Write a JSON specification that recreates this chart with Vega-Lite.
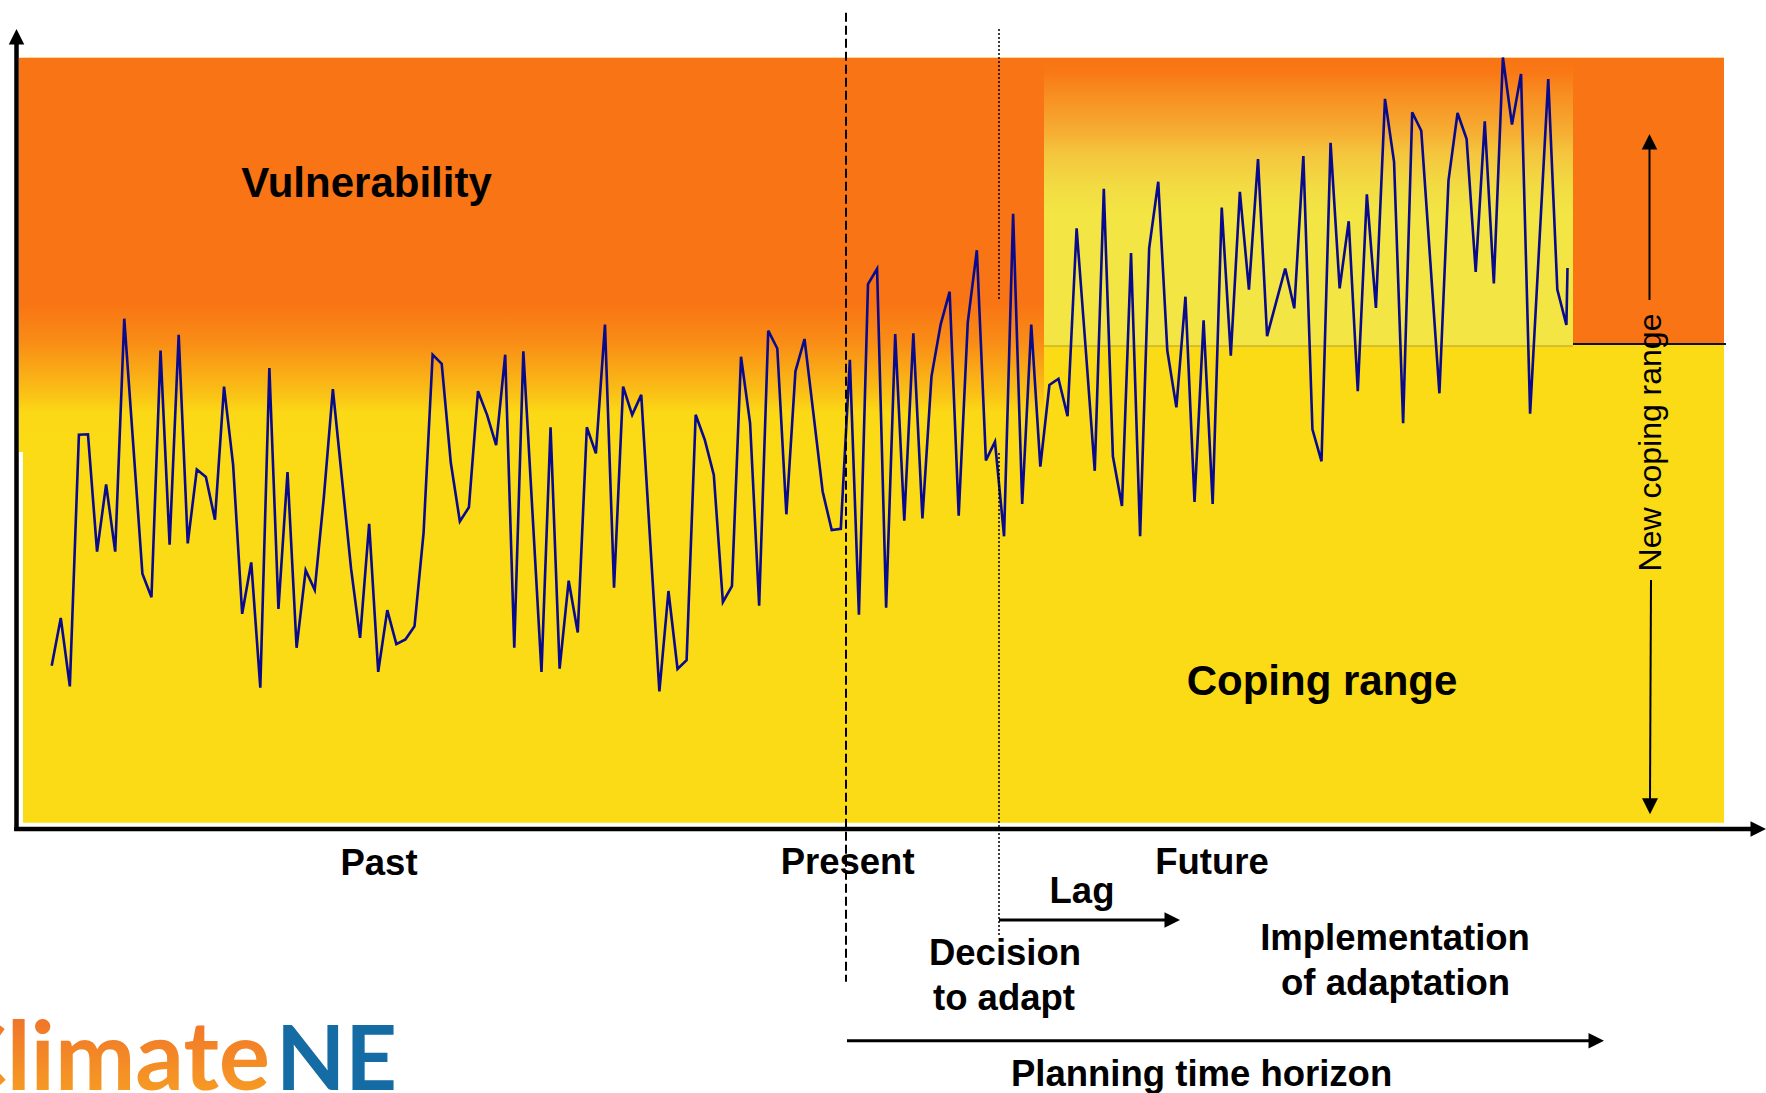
{
  "$schema": "https://vega.github.io/schema/vega-lite/v6.json",
  "width": 1766,
  "height": 1093,
  "autosize": {"type": "none"},
  "padding": 0,
  "background": "white",
  "config": {"view": {"stroke": null}, "text": {"font": "Liberation Sans"}},
  "datasets": {
    "base": [{"x1": 23, "x2": 1724, "y1": 57.7, "y2": 822.7}],
    "leftband": [{"x1": 19, "x2": 1044, "y1": 57.7, "y2": 452}],
    "midband": [{"x1": 1044, "x2": 1573, "y1": 57.7, "y2": 346}],
    "rightband": [{"x1": 1573, "x2": 1724, "y1": 57.7, "y2": 344}],
    "rule_olive": [{"x": 1044, "x2": 1573, "y": 346, "y2": 346}],
    "rule_black": [{"x": 1573, "x2": 1726, "y": 344, "y2": 344}],
    "rules_axis": [{"x": 16.5, "x2": 16.5, "y": 40, "y2": 831}, {"x": 14.2, "x2": 1752, "y": 829, "y2": 829}],
    "rules_arrow": [{"x": 999, "x2": 1168, "y": 920, "y2": 920}, {"x": 847, "x2": 1590, "y": 1040.7, "y2": 1040.7}],
    "rules_coping": [{"x": 1649.5, "x2": 1649.5, "y": 146, "y2": 300}, {"x": 1651, "x2": 1650, "y": 580, "y2": 800}],
    "rule_dashed": [{"x": 846, "x2": 846, "y": 12.7, "y2": 981.7}],
    "rule_dotted": [{"x": 999, "x2": 999, "y": 29, "y2": 300}, {"x": 999, "x2": 999, "y": 453, "y2": 937}],
    "heads_up": [{"x": 16.5, "y": 36.75}, {"x": 1649.5, "y": 141.75}],
    "heads_down": [{"x": 1650, "y": 806.25}],
    "heads_right": [{"x": 1758.25, "y": 829}, {"x": 1172.25, "y": 920}, {"x": 1596.25, "y": 1040.7}],
    "labels_big": [{"label": "Vulnerability", "x": 366.5, "y": 196.7}, {"label": "Coping range", "x": 1322, "y": 695}],
    "labels_small": [
      {"label": "Past", "x": 379, "y": 875},
      {"label": "Present", "x": 847.6, "y": 874},
      {"label": "Future", "x": 1212, "y": 874},
      {"label": "Lag", "x": 1082, "y": 903},
      {"label": "Decision", "x": 1005, "y": 965},
      {"label": "to adapt", "x": 1004, "y": 1010},
      {"label": "Implementation", "x": 1395, "y": 950},
      {"label": "of adaptation", "x": 1395.6, "y": 995},
      {"label": "Planning time horizon", "x": 1201.6, "y": 1086}
    ],
    "label_rot": [{"label": "New coping range", "x": 1661, "y": 442.5}],
    "logo_a": [{"label": "Climate", "x": 270, "y": 1090}],
    "logo_b": [{"label": "NE", "x": 276, "y": 1090}],
    "series": [
      {"t": 51.7, "y": 665.7}, {"t": 60.77, "y": 618.0}, {"t": 69.84, "y": 686.4}, {"t": 78.91, "y": 434.7},
      {"t": 87.98, "y": 434.3}, {"t": 97.05, "y": 551.7}, {"t": 106.12, "y": 484.5}, {"t": 115.19, "y": 551.7},
      {"t": 124.26, "y": 318.7}, {"t": 133.33, "y": 445.9}, {"t": 142.4, "y": 573.6}, {"t": 151.47, "y": 597.3},
      {"t": 160.54, "y": 350.6}, {"t": 169.61, "y": 544.6}, {"t": 178.68, "y": 334.8}, {"t": 187.75, "y": 543.4},
      {"t": 196.82, "y": 469.6}, {"t": 205.89, "y": 477.0}, {"t": 214.96, "y": 519.7}, {"t": 224.03, "y": 386.6},
      {"t": 233.1, "y": 464.6}, {"t": 242.17, "y": 613.8}, {"t": 251.24, "y": 562.4}, {"t": 260.31, "y": 687.6},
      {"t": 269.38, "y": 368.0}, {"t": 278.45, "y": 608.9}, {"t": 287.52, "y": 472.1}, {"t": 296.59, "y": 647.8},
      {"t": 305.66, "y": 570.3}, {"t": 314.73, "y": 589.8}, {"t": 323.8, "y": 497.8}, {"t": 332.87, "y": 389.1},
      {"t": 341.94, "y": 478.7}, {"t": 351.01, "y": 568.2}, {"t": 360.08, "y": 637.9}, {"t": 369.15, "y": 523.9},
      {"t": 378.22, "y": 671.9}, {"t": 387.29, "y": 610.1}, {"t": 396.36, "y": 644.1}, {"t": 405.43, "y": 639.5},
      {"t": 414.5, "y": 626.3}, {"t": 423.57, "y": 533.0}, {"t": 432.64, "y": 354.7}, {"t": 441.71, "y": 363.8},
      {"t": 450.78, "y": 462.5}, {"t": 459.85, "y": 521.4}, {"t": 468.92, "y": 507.3}, {"t": 477.99, "y": 391.2},
      {"t": 487.06, "y": 414.8}, {"t": 496.13, "y": 445.1}, {"t": 505.2, "y": 354.7}, {"t": 514.27, "y": 647.8},
      {"t": 523.34, "y": 351.4}, {"t": 532.41, "y": 511.4}, {"t": 541.48, "y": 671.9}, {"t": 550.55, "y": 427.3},
      {"t": 559.62, "y": 668.6}, {"t": 568.69, "y": 580.7}, {"t": 577.76, "y": 632.5}, {"t": 586.83, "y": 427.3},
      {"t": 595.9, "y": 453.4}, {"t": 604.97, "y": 324.5}, {"t": 614.04, "y": 587.7}, {"t": 623.11, "y": 386.6},
      {"t": 632.18, "y": 414.8}, {"t": 641.25, "y": 394.9}, {"t": 650.32, "y": 543.4}, {"t": 659.39, "y": 691.4},
      {"t": 668.46, "y": 591.0}, {"t": 677.53, "y": 669.0}, {"t": 686.6, "y": 660.3}, {"t": 695.67, "y": 414.8},
      {"t": 704.74, "y": 439.7}, {"t": 713.81, "y": 475.0}, {"t": 722.88, "y": 602.2}, {"t": 731.95, "y": 586.1},
      {"t": 741.02, "y": 356.8}, {"t": 750.09, "y": 423.1}, {"t": 759.16, "y": 605.6}, {"t": 768.23, "y": 330.7},
      {"t": 777.3, "y": 348.5}, {"t": 786.37, "y": 514.3}, {"t": 795.44, "y": 371.3}, {"t": 804.51, "y": 339.0},
      {"t": 813.58, "y": 414.8}, {"t": 822.65, "y": 491.5}, {"t": 831.72, "y": 530.1}, {"t": 840.79, "y": 528.9},
      {"t": 849.86, "y": 359.7}, {"t": 858.93, "y": 614.7}, {"t": 868.0, "y": 284.2}, {"t": 877.07, "y": 268.9},
      {"t": 886.14, "y": 607.6}, {"t": 895.21, "y": 334.0}, {"t": 904.28, "y": 520.6}, {"t": 913.35, "y": 333.2},
      {"t": 922.42, "y": 518.5}, {"t": 931.49, "y": 376.3}, {"t": 940.56, "y": 324.9}, {"t": 949.63, "y": 291.7},
      {"t": 958.7, "y": 515.6}, {"t": 967.77, "y": 322.4}, {"t": 976.84, "y": 250.2}, {"t": 985.91, "y": 460.4},
      {"t": 994.98, "y": 441.8}, {"t": 1004.05, "y": 536.3}, {"t": 1013.12, "y": 213.8}, {"t": 1022.19, "y": 504.0},
      {"t": 1031.26, "y": 324.5}, {"t": 1040.33, "y": 466.7}, {"t": 1049.4, "y": 385.0}, {"t": 1058.47, "y": 378.8},
      {"t": 1067.54, "y": 416.1}, {"t": 1076.61, "y": 228.3}, {"t": 1085.68, "y": 348.5}, {"t": 1094.75, "y": 470.8},
      {"t": 1103.82, "y": 188.9}, {"t": 1112.89, "y": 456.3}, {"t": 1121.96, "y": 506.0}, {"t": 1131.03, "y": 253.1},
      {"t": 1140.1, "y": 536.3}, {"t": 1149.17, "y": 248.2}, {"t": 1158.24, "y": 181.8}, {"t": 1167.31, "y": 350.6},
      {"t": 1176.38, "y": 407.4}, {"t": 1185.45, "y": 296.7}, {"t": 1194.52, "y": 501.9}, {"t": 1203.59, "y": 320.3},
      {"t": 1212.66, "y": 504.0}, {"t": 1221.73, "y": 207.5}, {"t": 1230.8, "y": 355.6}, {"t": 1239.87, "y": 191.8},
      {"t": 1248.94, "y": 289.6}, {"t": 1258.01, "y": 159.0}, {"t": 1267.08, "y": 336.1}, {"t": 1276.15, "y": 302.1},
      {"t": 1285.22, "y": 268.5}, {"t": 1294.29, "y": 308.3}, {"t": 1303.36, "y": 156.1}, {"t": 1312.43, "y": 429.4},
      {"t": 1321.5, "y": 461.3}, {"t": 1330.57, "y": 142.9}, {"t": 1339.64, "y": 288.4}, {"t": 1348.71, "y": 221.2},
      {"t": 1357.78, "y": 391.2}, {"t": 1366.85, "y": 194.3}, {"t": 1375.92, "y": 307.9}, {"t": 1384.99, "y": 98.9},
      {"t": 1394.06, "y": 161.9}, {"t": 1403.13, "y": 423.1}, {"t": 1412.2, "y": 112.2}, {"t": 1421.27, "y": 130.8},
      {"t": 1430.34, "y": 261.9}, {"t": 1439.41, "y": 393.3}, {"t": 1448.48, "y": 180.6}, {"t": 1457.55, "y": 113.0},
      {"t": 1466.62, "y": 139.1}, {"t": 1475.69, "y": 271.8}, {"t": 1484.76, "y": 121.3}, {"t": 1493.83, "y": 283.4},
      {"t": 1502.9, "y": 57.5}, {"t": 1511.97, "y": 124.6}, {"t": 1521.04, "y": 74.0}, {"t": 1530.11, "y": 413.6},
      {"t": 1539.18, "y": 246.1}, {"t": 1548.25, "y": 79.0}, {"t": 1557.32, "y": 289.6}, {"t": 1566.39, "y": 324.9},
      {"t": 1567.5, "y": 268.0}
    ]
  },
  "layer": [
    {
      "data": {"name": "base"},
      "mark": {"type": "rect", "color": "#FBDA16"},
      "encoding": {
        "x": {"field": "x1", "type": "quantitative", "axis": null, "scale": {"domain": [0, 1766], "nice": false, "zero": false}},
        "x2": {"field": "x2"},
        "y": {"field": "y1", "type": "quantitative", "axis": null, "scale": {"domain": [0, 1093], "nice": false, "zero": false, "reverse": true}},
        "y2": {"field": "y2"}
      }
    },
    {
      "data": {"name": "leftband"},
      "mark": {"type": "rect", "color": {"gradient": "linear", "x1": 0, "y1": 0, "x2": 0, "y2": 1, "stops": [
        {"offset": 0, "color": "#F97414"}, {"offset": 0.62, "color": "#F97414"}, {"offset": 0.72, "color": "#F98C16"},
        {"offset": 0.85, "color": "#FAC016"}, {"offset": 0.9, "color": "#FBD916"}, {"offset": 1, "color": "#FBDA16"}]}},
      "encoding": {
        "x": {"field": "x1", "type": "quantitative", "axis": null, "scale": {"domain": [0, 1766], "nice": false, "zero": false}},
        "x2": {"field": "x2"},
        "y": {"field": "y1", "type": "quantitative", "axis": null, "scale": {"domain": [0, 1093], "nice": false, "zero": false, "reverse": true}},
        "y2": {"field": "y2"}
      }
    },
    {
      "data": {"name": "midband"},
      "mark": {"type": "rect", "color": {"gradient": "linear", "x1": 0, "y1": 0, "x2": 0, "y2": 1, "stops": [
        {"offset": 0, "color": "#F97414"}, {"offset": 0.05, "color": "#F97815"}, {"offset": 0.12, "color": "#F88C20"},
        {"offset": 0.26, "color": "#F6AE33"}, {"offset": 0.33, "color": "#F4C53D"}, {"offset": 0.45, "color": "#F2DC43"},
        {"offset": 0.55, "color": "#F3E644"}, {"offset": 1, "color": "#F3E644"}]}},
      "encoding": {
        "x": {"field": "x1", "type": "quantitative", "axis": null, "scale": {"domain": [0, 1766], "nice": false, "zero": false}},
        "x2": {"field": "x2"},
        "y": {"field": "y1", "type": "quantitative", "axis": null, "scale": {"domain": [0, 1093], "nice": false, "zero": false, "reverse": true}},
        "y2": {"field": "y2"}
      }
    },
    {
      "data": {"name": "rightband"},
      "mark": {"type": "rect", "color": "#F97414"},
      "encoding": {
        "x": {"field": "x1", "type": "quantitative", "axis": null, "scale": {"domain": [0, 1766], "nice": false, "zero": false}},
        "x2": {"field": "x2"},
        "y": {"field": "y1", "type": "quantitative", "axis": null, "scale": {"domain": [0, 1093], "nice": false, "zero": false, "reverse": true}},
        "y2": {"field": "y2"}
      }
    },
    {
      "data": {"name": "rule_olive"},
      "mark": {"type": "rule", "color": "#B39B2A", "strokeWidth": 1.2},
      "encoding": {
        "x": {"field": "x", "type": "quantitative", "axis": null, "scale": {"domain": [0, 1766], "nice": false, "zero": false}},
        "x2": {"field": "x2"},
        "y": {"field": "y", "type": "quantitative", "axis": null, "scale": {"domain": [0, 1093], "nice": false, "zero": false, "reverse": true}},
        "y2": {"field": "y2"}
      }
    },
    {
      "data": {"name": "rule_black"},
      "mark": {"type": "rule", "color": "#111111", "strokeWidth": 2},
      "encoding": {
        "x": {"field": "x", "type": "quantitative", "axis": null, "scale": {"domain": [0, 1766], "nice": false, "zero": false}},
        "x2": {"field": "x2"},
        "y": {"field": "y", "type": "quantitative", "axis": null, "scale": {"domain": [0, 1093], "nice": false, "zero": false, "reverse": true}},
        "y2": {"field": "y2"}
      }
    },
    {
      "data": {"name": "series"},
      "mark": {"type": "line", "color": "#0A0A8C", "strokeWidth": 2.6, "interpolate": "linear"},
      "encoding": {
        "x": {"field": "t", "type": "quantitative", "axis": null, "scale": {"domain": [0, 1766], "nice": false, "zero": false}},
        "y": {"field": "y", "type": "quantitative", "axis": null, "scale": {"domain": [0, 1093], "nice": false, "zero": false, "reverse": true}}
      }
    },
    {
      "data": {"name": "rules_axis"},
      "mark": {"type": "rule", "color": "black", "strokeWidth": 4.5},
      "encoding": {
        "x": {"field": "x", "type": "quantitative", "axis": null, "scale": {"domain": [0, 1766], "nice": false, "zero": false}},
        "x2": {"field": "x2"},
        "y": {"field": "y", "type": "quantitative", "axis": null, "scale": {"domain": [0, 1093], "nice": false, "zero": false, "reverse": true}},
        "y2": {"field": "y2"}
      }
    },
    {
      "data": {"name": "rules_arrow"},
      "mark": {"type": "rule", "color": "black", "strokeWidth": 3},
      "encoding": {
        "x": {"field": "x", "type": "quantitative", "axis": null, "scale": {"domain": [0, 1766], "nice": false, "zero": false}},
        "x2": {"field": "x2"},
        "y": {"field": "y", "type": "quantitative", "axis": null, "scale": {"domain": [0, 1093], "nice": false, "zero": false, "reverse": true}},
        "y2": {"field": "y2"}
      }
    },
    {
      "data": {"name": "rules_coping"},
      "mark": {"type": "rule", "color": "black", "strokeWidth": 2},
      "encoding": {
        "x": {"field": "x", "type": "quantitative", "axis": null, "scale": {"domain": [0, 1766], "nice": false, "zero": false}},
        "x2": {"field": "x2"},
        "y": {"field": "y", "type": "quantitative", "axis": null, "scale": {"domain": [0, 1093], "nice": false, "zero": false, "reverse": true}},
        "y2": {"field": "y2"}
      }
    },
    {
      "data": {"name": "rule_dashed"},
      "mark": {"type": "rule", "color": "black", "strokeWidth": 2, "strokeDash": [9, 4]},
      "encoding": {
        "x": {"field": "x", "type": "quantitative", "axis": null, "scale": {"domain": [0, 1766], "nice": false, "zero": false}},
        "x2": {"field": "x2"},
        "y": {"field": "y", "type": "quantitative", "axis": null, "scale": {"domain": [0, 1093], "nice": false, "zero": false, "reverse": true}},
        "y2": {"field": "y2"}
      }
    },
    {
      "data": {"name": "rule_dotted"},
      "mark": {"type": "rule", "color": "black", "strokeWidth": 1.5, "strokeDash": [2, 2]},
      "encoding": {
        "x": {"field": "x", "type": "quantitative", "axis": null, "scale": {"domain": [0, 1766], "nice": false, "zero": false}},
        "x2": {"field": "x2"},
        "y": {"field": "y", "type": "quantitative", "axis": null, "scale": {"domain": [0, 1093], "nice": false, "zero": false, "reverse": true}},
        "y2": {"field": "y2"}
      }
    },
    {
      "data": {"name": "heads_up"},
      "mark": {"type": "point", "shape": "M0,-1L1,1L-1,1Z", "size": 240, "filled": true, "color": "black", "opacity": 1, "strokeWidth": 0},
      "encoding": {
        "x": {"field": "x", "type": "quantitative", "axis": null, "scale": {"domain": [0, 1766], "nice": false, "zero": false}},
        "y": {"field": "y", "type": "quantitative", "axis": null, "scale": {"domain": [0, 1093], "nice": false, "zero": false, "reverse": true}}
      }
    },
    {
      "data": {"name": "heads_down"},
      "mark": {"type": "point", "shape": "M0,1L1,-1L-1,-1Z", "size": 256, "filled": true, "color": "black", "opacity": 1, "strokeWidth": 0},
      "encoding": {
        "x": {"field": "x", "type": "quantitative", "axis": null, "scale": {"domain": [0, 1766], "nice": false, "zero": false}},
        "y": {"field": "y", "type": "quantitative", "axis": null, "scale": {"domain": [0, 1093], "nice": false, "zero": false, "reverse": true}}
      }
    },
    {
      "data": {"name": "heads_right"},
      "mark": {"type": "point", "shape": "M1,0L-1,-1L-1,1Z", "size": 240, "filled": true, "color": "black", "opacity": 1, "strokeWidth": 0},
      "encoding": {
        "x": {"field": "x", "type": "quantitative", "axis": null, "scale": {"domain": [0, 1766], "nice": false, "zero": false}},
        "y": {"field": "y", "type": "quantitative", "axis": null, "scale": {"domain": [0, 1093], "nice": false, "zero": false, "reverse": true}}
      }
    },
    {
      "data": {"name": "labels_big"},
      "mark": {"type": "text", "font": "Liberation Sans", "fontWeight": "bold", "fontSize": 42, "align": "center", "baseline": "alphabetic", "color": "black"},
      "encoding": {
        "x": {"field": "x", "type": "quantitative", "axis": null, "scale": {"domain": [0, 1766], "nice": false, "zero": false}},
        "y": {"field": "y", "type": "quantitative", "axis": null, "scale": {"domain": [0, 1093], "nice": false, "zero": false, "reverse": true}},
        "text": {"field": "label"}
      }
    },
    {
      "data": {"name": "labels_small"},
      "mark": {"type": "text", "font": "Liberation Sans", "fontWeight": "bold", "fontSize": 36.5, "align": "center", "baseline": "alphabetic", "color": "black"},
      "encoding": {
        "x": {"field": "x", "type": "quantitative", "axis": null, "scale": {"domain": [0, 1766], "nice": false, "zero": false}},
        "y": {"field": "y", "type": "quantitative", "axis": null, "scale": {"domain": [0, 1093], "nice": false, "zero": false, "reverse": true}},
        "text": {"field": "label"}
      }
    },
    {
      "data": {"name": "label_rot"},
      "mark": {"type": "text", "font": "Liberation Sans", "fontSize": 32, "angle": 270, "align": "center", "baseline": "alphabetic", "color": "black"},
      "encoding": {
        "x": {"field": "x", "type": "quantitative", "axis": null, "scale": {"domain": [0, 1766], "nice": false, "zero": false}},
        "y": {"field": "y", "type": "quantitative", "axis": null, "scale": {"domain": [0, 1093], "nice": false, "zero": false, "reverse": true}},
        "text": {"field": "label"}
      }
    },
    {
      "data": {"name": "logo_a"},
      "mark": {"type": "text", "font": "Lato", "fontWeight": "bold", "fontSize": 96, "align": "right", "baseline": "alphabetic",
        "color": {"gradient": "linear", "x1": 0, "y1": 0, "x2": 0, "y2": 1, "stops": [{"offset": 0, "color": "#EE6A2C"}, {"offset": 1, "color": "#F8A322"}]}},
      "encoding": {
        "x": {"field": "x", "type": "quantitative", "axis": null, "scale": {"domain": [0, 1766], "nice": false, "zero": false}},
        "y": {"field": "y", "type": "quantitative", "axis": null, "scale": {"domain": [0, 1093], "nice": false, "zero": false, "reverse": true}},
        "text": {"field": "label"}
      }
    },
    {
      "data": {"name": "logo_b"},
      "mark": {"type": "text", "font": "Lato", "fontWeight": "bold", "fontSize": 90, "align": "left", "baseline": "alphabetic", "color": "#156BA3"},
      "encoding": {
        "x": {"field": "x", "type": "quantitative", "axis": null, "scale": {"domain": [0, 1766], "nice": false, "zero": false}},
        "y": {"field": "y", "type": "quantitative", "axis": null, "scale": {"domain": [0, 1093], "nice": false, "zero": false, "reverse": true}},
        "text": {"field": "label"}
      }
    }
  ]
}
